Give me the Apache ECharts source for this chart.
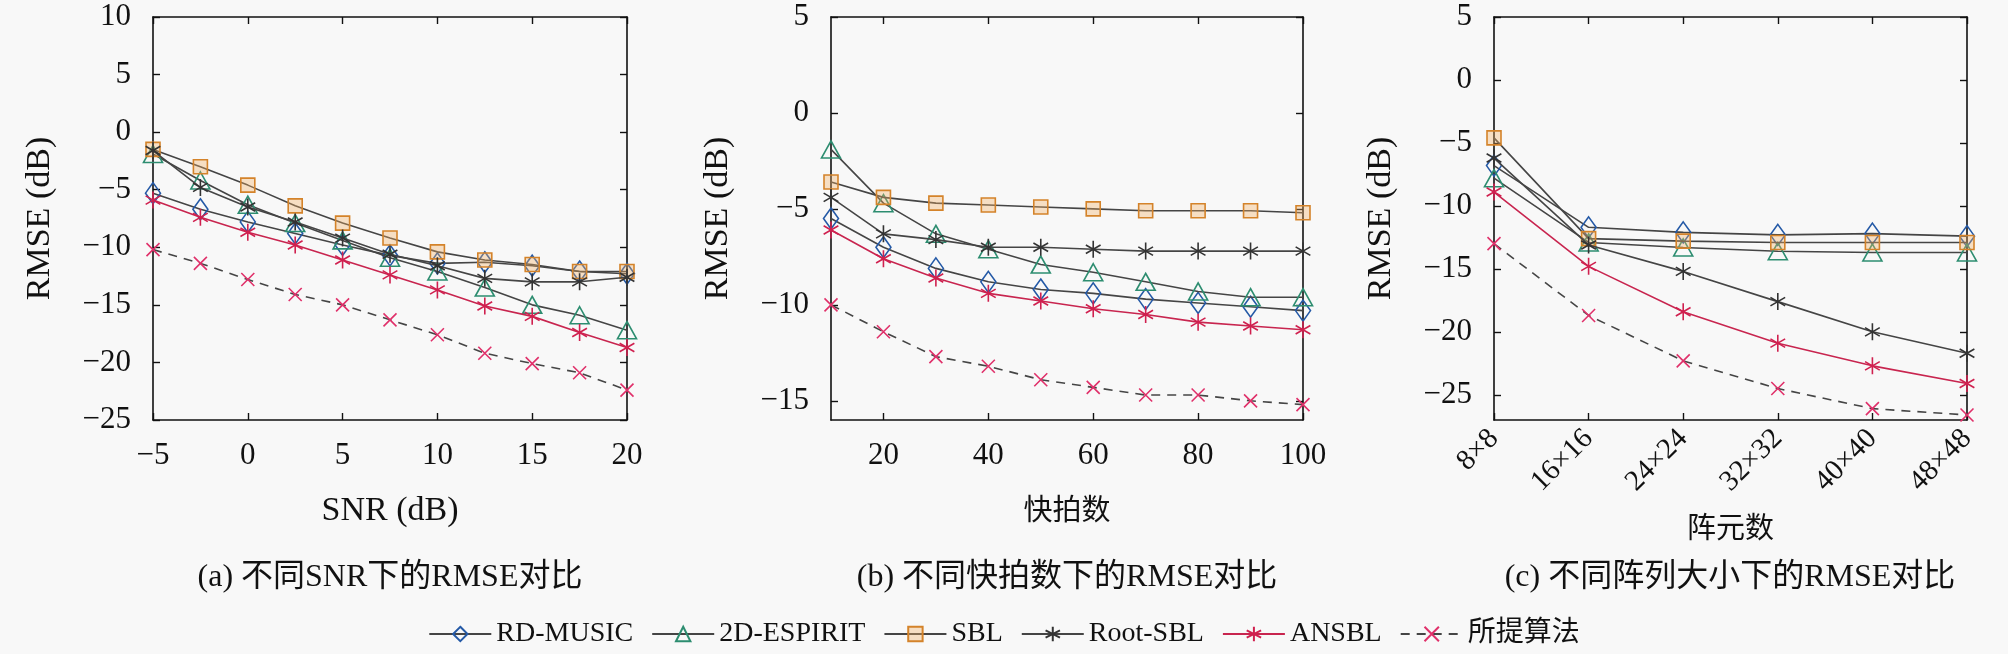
<!DOCTYPE html>
<html>
<head>
<meta charset="utf-8">
<script src="https://cdn.jsdelivr.net/npm/echarts@6/dist/echarts.min.js"></script>
<style>
  html, body { margin: 0; padding: 0; background: #f8f8f8; }
  #chart { width: 2008px; height: 654px; }
</style>
</head>
<body>
<div id="chart"></div>
<script>
// ---- data ----
const snrValues = [-5, -2.5, 0, 2.5, 5, 7.5, 10, 12.5, 15, 17.5, 20];
const snapshotValues = [10, 20, 30, 40, 50, 60, 70, 80, 90, 100];
const arraySizes = ['8×8', '16×16', '24×24', '32×32', '40×40', '48×48'];

const seriesNames = ['RD-MUSIC', '2D-ESPIRIT', 'SBL', 'Root-SBL', 'ANSBL', '所提算法'];

// (a) RMSE vs SNR
const snrRdMusic  = [-5.3, -6.7, -7.8, -8.8, -9.8, -10.7, -11.4, -11.3, -11.6, -12.1, -12.3];
const snrEspirit  = [-1.9, -4.2, -6.3, -7.9, -9.4, -10.9, -12.1, -13.5, -15.0, -15.9, -17.2];
const snrSbl      = [-1.5, -3.0, -4.6, -6.4, -7.9, -9.2, -10.4, -11.1, -11.5, -12.1, -12.1];
const snrRootSbl  = [-1.6, -4.8, -6.5, -7.8, -9.2, -10.6, -11.6, -12.7, -13.0, -13.0, -12.6];
const snrAnsbl    = [-5.9, -7.4, -8.7, -9.8, -11.1, -12.4, -13.7, -15.1, -16.0, -17.4, -18.7];
const snrProposed = [-10.2, -11.4, -12.8, -14.1, -15.0, -16.3, -17.6, -19.2, -20.1, -20.9, -22.4];

// (b) RMSE vs number of snapshots
const snapRdMusic  = [-5.5, -7.0, -8.1, -8.8, -9.2, -9.4, -9.7, -9.9, -10.1, -10.3];
const snapEspirit  = [-1.9, -4.7, -6.3, -7.1, -7.9, -8.3, -8.8, -9.3, -9.6, -9.6];
const snapSbl      = [-3.6, -4.4, -4.7, -4.8, -4.9, -5.0, -5.1, -5.1, -5.1, -5.2];
const snapRootSbl  = [-4.4, -6.3, -6.6, -7.0, -7.0, -7.1, -7.2, -7.2, -7.2, -7.2];
const snapAnsbl    = [-6.1, -7.6, -8.6, -9.4, -9.8, -10.2, -10.5, -10.9, -11.1, -11.3];
const snapProposed = [-10.0, -11.4, -12.7, -13.2, -13.9, -14.3, -14.7, -14.7, -15.0, -15.2];

// (c) RMSE vs array size
const sizeRdMusic  = [-6.8, -11.7, -12.1, -12.3, -12.2, -12.4];
const sizeEspirit  = [-7.8, -12.9, -13.3, -13.6, -13.7, -13.7];
const sizeSbl      = [-4.6, -12.6, -12.8, -12.9, -12.9, -12.9];
const sizeRootSbl  = [-6.2, -13.1, -15.2, -17.6, -20.0, -21.7];
const sizeAnsbl    = [-8.9, -14.8, -18.4, -20.9, -22.7, -24.1];
const sizeProposed = [-13.0, -18.7, -22.3, -24.5, -26.1, -26.6];

// ---- styles ----
const FONT = "'Liberation Serif', 'DejaVu Serif', 'Noto Sans CJK SC', serif";
const CJK = "'Noto Sans CJK SC', 'Liberation Serif', serif";
const GRAY = '#454545';

const asteriskPath = 'path://M10,0L10,20M1.34,5L18.66,15M1.34,15L18.66,5';
const crossPath = 'path://M0,0L20,20M0,20L20,0';

const looks = [
  { symbol: 'diamond', size: [15, 21], fill: 'none', stroke: '#2459a6', line: GRAY, type: 'solid' },
  { symbol: 'triangle', size: [19, 17], fill: 'none', stroke: '#2d8d70', line: GRAY, type: 'solid' },
  { symbol: 'rect', size: 14, fill: 'rgba(243,176,96,0.35)', stroke: '#d4832a', line: GRAY, type: 'solid' },
  { symbol: asteriskPath, size: 17, fill: 'none', stroke: '#333', line: GRAY, type: 'solid' },
  { symbol: asteriskPath, size: 17, fill: 'none', stroke: '#d0204f', line: '#c8254f', type: 'solid' },
  { symbol: crossPath, size: 13, fill: 'none', stroke: '#e0306a', line: GRAY, type: [9, 7] }
];

const minus = v => String(v).replace('-', '\u2212');

function makeSeries(idx, xIndex, xs, ys) {
  const look = looks[idx];
  const data = xs ? ys.map((y, i) => [xs[i], y]) : ys;
  return {
    name: seriesNames[idx],
    type: 'line',
    xAxisIndex: xIndex,
    yAxisIndex: xIndex,
    data: data,
    symbol: look.symbol,
    symbolSize: look.size,
    symbolKeepAspect: true,
    showAllSymbol: true,
    lineStyle: { color: look.line, width: 1.6, type: look.type },
    itemStyle: { color: look.fill, borderColor: look.stroke, borderWidth: 1.6 },
    emphasis: { disabled: true },
    z: 2 + idx
  };
}

const frameLine = { show: true, onZero: false, lineStyle: { color: '#111', width: 1.6 } };
const innerTick = { show: true, inside: true, length: 7, lineStyle: { color: '#111', width: 1.4 } };
const tickFont = { fontFamily: FONT, fontSize: 31, color: '#111' };

function valueX(grid, min, max, ticks, name, gap, position) {
  const main = position === 'bottom';
  return {
    type: 'value', gridIndex: grid, position: position, min: min, max: max,
    axisLine: frameLine,
    axisTick: Object.assign({}, innerTick, { customValues: ticks }),
    axisLabel: Object.assign({ show: main, margin: 20, formatter: minus, customValues: ticks }, tickFont),
    splitLine: { show: false },
    name: main ? name : '', nameLocation: 'middle', nameGap: gap,
    nameTextStyle: name === 'SNR (dB)'
      ? { fontFamily: FONT, fontSize: 34, color: '#111' }
      : { fontFamily: CJK, fontSize: 29, color: '#111' }
  };
}

function categoryX(grid, position) {
  const main = position === 'bottom';
  return {
    type: 'category', gridIndex: grid, position: position, data: arraySizes,
    boundaryGap: false,
    axisLine: frameLine,
    axisTick: Object.assign({}, innerTick, { alignWithLabel: true }),
    axisLabel: Object.assign({ show: main, margin: 14, rotate: 45, interval: 0 }, tickFont, { fontSize: 29 }),
    splitLine: { show: false },
    name: main ? '阵元数' : '', nameLocation: 'middle', nameGap: 92,
    nameTextStyle: { fontFamily: CJK, fontSize: 29, color: '#111' }
  };
}

function valueY(grid, min, max, ticks, position) {
  const main = position === 'left';
  return {
    type: 'value', gridIndex: grid, position: position, min: min, max: max,
    axisLine: frameLine,
    axisTick: Object.assign({}, innerTick, { customValues: ticks }),
    axisLabel: Object.assign({ show: main, margin: 22, formatter: minus, customValues: ticks }, tickFont),
    splitLine: { show: false },
    name: main ? 'RMSE (dB)' : '', nameLocation: 'middle', nameGap: 96, nameRotate: 90,
    nameTextStyle: { fontFamily: FONT, fontSize: 34, color: '#111' }
  };
}

const snrTicks = [-5, 0, 5, 10, 15, 20];
const snapTicks = [20, 40, 60, 80, 100];
const aTicks = [-25, -20, -15, -10, -5, 0, 5, 10];
const bTicks = [-15, -10, -5, 0, 5];
const cTicks = [-25, -20, -15, -10, -5, 0, 5];

const chart = echarts.init(document.getElementById('chart'));

const capFont = "32px " + FONT;

const option = {
  backgroundColor: '#f8f8f8',
  animation: false,
  grid: [
    { left: 153, top: 17, width: 474, height: 403 },
    { left: 831, top: 17, width: 472, height: 403 },
    { left: 1494, top: 17, width: 473, height: 403 }
  ],
  xAxis: [
    valueX(0, -5, 20, snrTicks, 'SNR (dB)', 74, 'bottom'),
    valueX(0, -5, 20, snrTicks, '', 0, 'top'),
    valueX(1, 10, 100, snapTicks, '快拍数', 74, 'bottom'),
    valueX(1, 10, 100, snapTicks, '', 0, 'top'),
    categoryX(2, 'bottom'),
    categoryX(2, 'top')
  ],
  yAxis: [
    valueY(0, -25, 10, aTicks, 'left'),
    valueY(0, -25, 10, aTicks, 'right'),
    valueY(1, -16, 5, bTicks, 'left'),
    valueY(1, -16, 5, bTicks, 'right'),
    valueY(2, -27, 5, cTicks, 'left'),
    valueY(2, -27, 5, cTicks, 'right')
  ],
  legend: {
    data: seriesNames,
    left: 'center',
    top: 615,
    itemWidth: 62,
    itemHeight: 18,
    itemGap: 18,
    textStyle: { fontFamily: FONT, fontSize: 28, color: '#111' }
  },
  graphic: [
    { type: 'text', x: 390, y: 562, style: { text: '(a) 不同SNR下的RMSE对比', textAlign: 'center', font: capFont, fill: '#111' } },
    { type: 'text', x: 1067, y: 562, style: { text: '(b) 不同快拍数下的RMSE对比', textAlign: 'center', font: capFont, fill: '#111' } },
    { type: 'text', x: 1730, y: 562, style: { text: '(c) 不同阵列大小下的RMSE对比', textAlign: 'center', font: capFont, fill: '#111' } }
  ],
  series: [
    makeSeries(0, 0, snrValues, snrRdMusic),
    makeSeries(1, 0, snrValues, snrEspirit),
    makeSeries(2, 0, snrValues, snrSbl),
    makeSeries(3, 0, snrValues, snrRootSbl),
    makeSeries(4, 0, snrValues, snrAnsbl),
    makeSeries(5, 0, snrValues, snrProposed),
    makeSeries(0, 2, snapshotValues, snapRdMusic),
    makeSeries(1, 2, snapshotValues, snapEspirit),
    makeSeries(2, 2, snapshotValues, snapSbl),
    makeSeries(3, 2, snapshotValues, snapRootSbl),
    makeSeries(4, 2, snapshotValues, snapAnsbl),
    makeSeries(5, 2, snapshotValues, snapProposed),
    makeSeries(0, 4, null, sizeRdMusic),
    makeSeries(1, 4, null, sizeEspirit),
    makeSeries(2, 4, null, sizeSbl),
    makeSeries(3, 4, null, sizeRootSbl),
    makeSeries(4, 4, null, sizeAnsbl),
    makeSeries(5, 4, null, sizeProposed)
  ]
};

chart.setOption(option);
</script>
</body>
</html>
